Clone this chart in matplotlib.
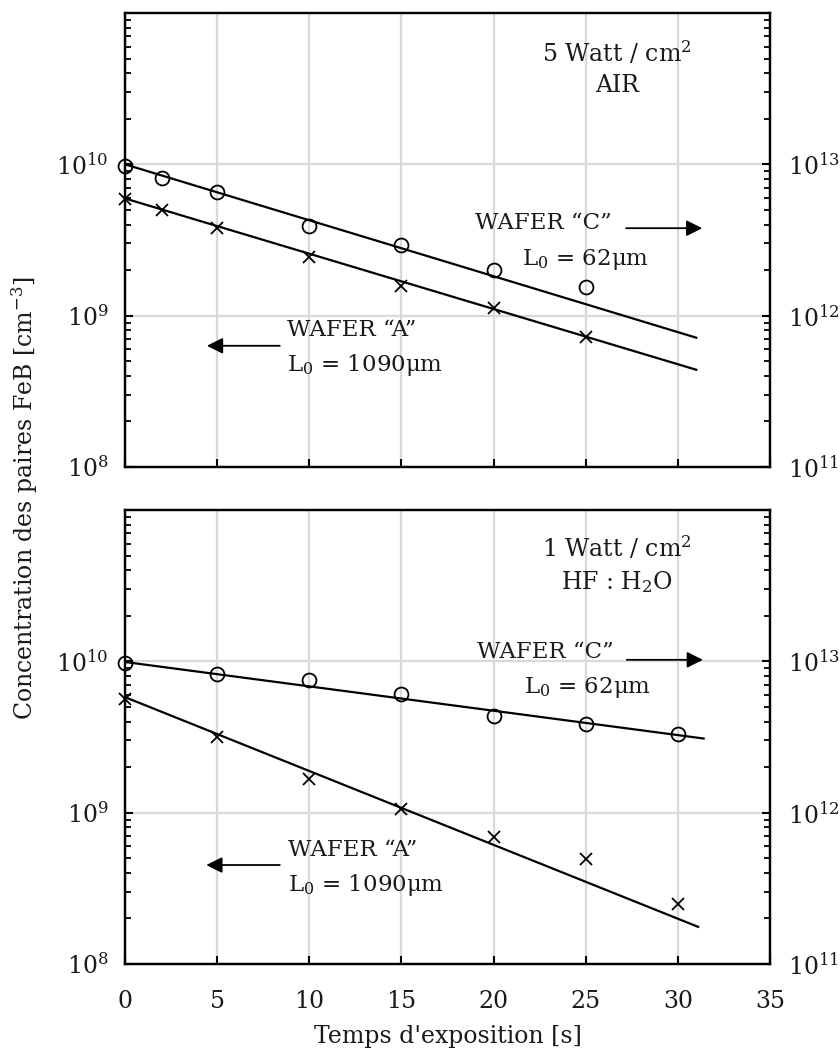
import matplotlib
matplotlib.use("Agg")
import matplotlib.pyplot as plt
from matplotlib.ticker import LogLocator, NullFormatter, FixedLocator
import numpy as np

# ---------------- data ----------------
# Top panel: 5 Watt / cm2, AIR
top_t_A = [0, 2, 5, 10, 15, 20, 25]
top_A = [5.86e9, 4.96e9, 3.77e9, 2.46e9, 1.56e9, 1.13e9, 7.26e8]
top_t_C = [0, 2, 5, 10, 15, 20, 25]
top_C = [9.8e9, 8.1e9, 6.6e9, 3.9e9, 2.92e9, 1.99e9, 1.55e9]
top_fit_t = [0, 31.0]
top_fit_A = [5.95e9, 4.39e8]
top_fit_C = [1.0e10, 7.15e8]

# Bottom panel: 1 Watt / cm2, HF : H2O
bot_t_A = [0, 5, 10, 15, 20, 25, 30]
bot_A = [5.6e9, 3.14e9, 1.68e9, 1.05e9, 6.9e8, 4.96e8, 2.5e8]
bot_t_C = [0, 5, 10, 15, 20, 25, 30]
bot_C = [9.7e9, 8.2e9, 7.5e9, 6.1e9, 4.33e9, 3.83e9, 3.33e9]
bot_fit_t_A = [0, 31.1]
bot_fit_A = [5.8e9, 1.76e8]
bot_fit_t_C = [0, 31.4]
bot_fit_C = [9.9e9, 3.09e9]

x_ticks = [0, 5, 10, 15, 20, 25, 30, 35]
left_ticks = [1e8, 1e9, 1e10]
right_ticks = [1e11, 1e12, 1e13]

xlabel = "Temps d'exposition [s]"
ylabel = "Concentration des paires FeB [cm$^{-3}$]"

# ---------------- style ----------------
FONT = "DejaVu Serif"
plt.rcParams["font.family"] = [FONT, "DejaVu Sans"]
plt.rcParams["mathtext.fontset"] = "custom"
plt.rcParams["mathtext.rm"] = FONT
plt.rcParams["mathtext.it"] = FONT
plt.rcParams["mathtext.bf"] = FONT
FS = 17
AFS = 16.5
GRID = "#d9d9d9"
TXT = "#1a1a1a"

fig = plt.figure(figsize=(8.4, 10.5), dpi=100)
W, H = 840, 1050


def make_axes(top_px, bot_px):
    l, r = 125, 770
    return fig.add_axes([l / W, 1 - bot_px / H, (r - l) / W, (bot_px - top_px) / H])


def style(ax, show_xlabels):
    ax.set_yscale("log")
    ax.set_xlim(0, 35)
    ax.set_ylim(1e8, 1e11)
    ax.set_xticks(x_ticks)
    ax.yaxis.set_major_locator(FixedLocator(left_ticks))
    ax.yaxis.set_minor_locator(LogLocator(base=10, subs=np.arange(2, 10)))
    ax.yaxis.set_minor_formatter(NullFormatter())
    ax.set_yticklabels([r"$10^{8}$", r"$10^{9}$", r"$10^{10}$"])
    ax.grid(True, which="major", color=GRID, linewidth=1.6, zorder=0)
    ax.set_axisbelow(True)
    for s in ax.spines.values():
        s.set_linewidth(1.6)
    ax.tick_params(axis="both", which="major", direction="in", length=6,
                   width=1.5, labelsize=FS, labelcolor=TXT)
    ax.tick_params(axis="y", which="major", pad=12)
    ax.tick_params(axis="x", which="major", pad=19)
    ax.tick_params(axis="y", which="minor", direction="in", length=4, width=1.3)
    if not show_xlabels:
        ax.tick_params(axis="x", labelbottom=False)
    ax2 = ax.twinx()
    ax2.set_yscale("log")
    ax2.set_ylim(1e11, 1e14)
    ax2.yaxis.set_major_locator(FixedLocator(right_ticks))
    ax2.yaxis.set_minor_locator(LogLocator(base=10, subs=np.arange(2, 10)))
    ax2.yaxis.set_minor_formatter(NullFormatter())
    ax2.set_yticklabels([r"$10^{11}$", r"$10^{12}$", r"$10^{13}$"])
    ax2.tick_params(axis="y", which="major", direction="in", length=6,
                    width=1.5, labelsize=FS, pad=13, labelcolor=TXT)
    ax2.tick_params(axis="y", which="minor", direction="in", length=4, width=1.3)
    for s in ax2.spines.values():
        s.set_linewidth(1.6)
    return ax2


def annotate(ax, header1, header2, cpos, apos):
    kw = dict(transform=ax.transAxes, color=TXT)
    ax.text(0.763, cpos[0], header1, ha="center", va="center", fontsize=FS, **kw)
    ax.text(0.763, cpos[1], header2, ha="center", va="center", fontsize=FS, **kw)
    # Wafer C
    ax.text(cpos[2], cpos[3], "WAFER \u201cC\u201d", ha="left", va="center",
            fontsize=AFS, **kw)
    ax.text(cpos[4], cpos[5], "L$_0$ = 62\u03bcm", ha="left", va="center",
            fontsize=AFS, **kw)
    ax.annotate("", xy=(cpos[7], cpos[8]), xytext=(cpos[6], cpos[8]),
                xycoords="axes fraction", textcoords="axes fraction",
                arrowprops=dict(arrowstyle="-|>", color="black", lw=1.3,
                                mutation_scale=24, shrinkA=0, shrinkB=0))
    # Wafer A
    ax.text(apos[0], apos[1], "WAFER \u201cA\u201d", ha="left", va="center",
            fontsize=AFS, **kw)
    ax.text(apos[0], apos[2], "L$_0$ = 1090\u03bcm", ha="left", va="center",
            fontsize=AFS, **kw)
    ax.annotate("", xy=(apos[4], apos[5]), xytext=(apos[3], apos[5]),
                xycoords="axes fraction", textcoords="axes fraction",
                arrowprops=dict(arrowstyle="-|>", color="black", lw=1.3,
                                mutation_scale=24, shrinkA=0, shrinkB=0))


mk = dict(linestyle="none", color="black", zorder=5, clip_on=False)

# ---- top panel ----
ax1 = make_axes(13, 467)
style(ax1, show_xlabels=False)
ax1.plot(top_fit_t, top_fit_C, color="black", lw=1.6, zorder=4)
ax1.plot(top_fit_t, top_fit_A, color="black", lw=1.6, zorder=4)
ax1.plot(top_t_C, top_C, marker="o", markersize=10, markerfacecolor="none",
         markeredgewidth=1.3, **mk)
ax1.plot(top_t_A, top_A, marker="x", markersize=9, markeredgewidth=1.3, **mk)
annotate(ax1, "5 Watt / cm$^2$", "AIR",
         (0.912, 0.841, 0.543, 0.537, 0.616, 0.456, 0.777, 0.895, 0.526),
         (0.251, 0.302, 0.225, 0.240, 0.127, 0.267))

# ---- bottom panel ----
ax3 = make_axes(510, 964)
style(ax3, show_xlabels=True)
ax3.plot(bot_fit_t_C, bot_fit_C, color="black", lw=1.6, zorder=4)
ax3.plot(bot_fit_t_A, bot_fit_A, color="black", lw=1.6, zorder=4)
ax3.plot(bot_t_C, bot_C, marker="o", markersize=10, markerfacecolor="none",
         markeredgewidth=1.3, **mk)
ax3.plot(bot_t_A, bot_A, marker="x", markersize=9, markeredgewidth=1.3, **mk)
annotate(ax3, "1 Watt / cm$^2$", "HF : H$_2$O",
         (0.916, 0.841, 0.546, 0.687, 0.619, 0.610, 0.778, 0.896, 0.670),
         (0.253, 0.251, 0.174, 0.240, 0.126, 0.218))
ax3.set_xlabel(xlabel, fontsize=FS, labelpad=8, color=TXT)

fig.text(25 / W, 1 - 498 / H, ylabel, rotation=90, ha="center", va="center",
         fontsize=FS, color=TXT)

fig.savefig("out.png", dpi=100)
